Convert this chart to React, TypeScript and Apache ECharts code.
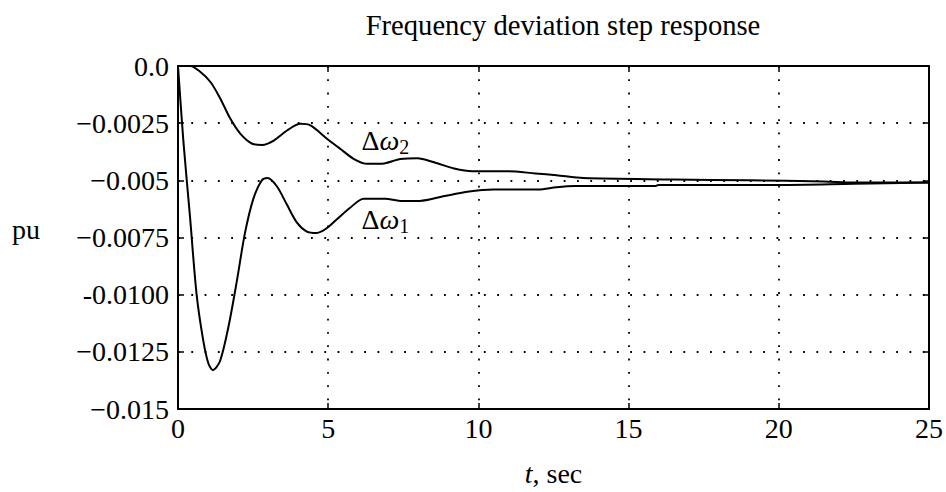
import { useEffect, useRef } from "react";
import * as echarts from "echarts";

const chartTitle = "Frequency deviation step response";
const yTickLabels = ["0.0", "−0.0025", "−0.005", "−0.0075", "-0.0100", "−0.0125", "−0.015"];
const xTickLabels = ["0", "5", "10", "15", "20", "25"];

// Δω1 (lower curve)
const t1 = [0, 0.18, 0.4, 0.62, 0.84, 1.01, 1.16, 1.4, 1.68, 1.96, 2.23, 2.51, 2.79, 2.98, 3.29, 3.62, 3.96, 4.29, 4.62, 4.9, 5.29, 5.73, 6.18, 6.9, 7.4, 8.05, 8.83, 9.63, 10.5, 12.0, 12.6, 13.2, 15.9, 16.0, 18, 20, 22.5, 25];
const w1 = [0, -0.0033, -0.0066, -0.01, -0.012, -0.013, -0.0133, -0.0129, -0.0114, -0.0094, -0.0073, -0.0058, -0.005, -0.0049, -0.00526, -0.00605, -0.00685, -0.00724, -0.0073, -0.00714, -0.0067, -0.0062, -0.0058, -0.0058, -0.0059, -0.0059, -0.0057, -0.0055, -0.0054, -0.0054, -0.0053, -0.00525, -0.00525, -0.0052, -0.0052, -0.0052, -0.00515, -0.0051];

// Δω2 (upper curve)
const t2 = [0, 0.41, 0.69, 1.08, 1.41, 1.74, 2.08, 2.47, 2.8, 3.19, 3.63, 4.08, 4.41, 4.97, 5.41, 5.86, 6.3, 6.74, 7.41, 7.97, 8.52, 9.19, 9.8, 10.5, 11.0, 11.9, 12.6, 13.5, 16.5, 19, 21.5, 22.5, 25];
const w2 = [0, 0, -0.0002, -0.0007, -0.00143, -0.0023, -0.00297, -0.0034, -0.00345, -0.00326, -0.00282, -0.00253, -0.0026, -0.00319, -0.00363, -0.00407, -0.00428, -0.00428, -0.00407, -0.00403, -0.00421, -0.00448, -0.0046, -0.0046, -0.0046, -0.0047, -0.00478, -0.0049, -0.00496, -0.005, -0.00505, -0.0051, -0.0051];

// label anchor positions (data coords)
const label1 = [6.9, -0.0067];
const label2 = [6.9, -0.00325];

const FONT = "'Liberation Serif', 'Times New Roman', serif";

export default function App() {
  const ref = useRef<HTMLDivElement>(null);
  useEffect(() => {
    if (!ref.current) return;
    const chart = echarts.init(ref.current, null, { renderer: "svg" });
    const axisLine = { show: true, onZero: false, lineStyle: { color: "#000", width: 2 } };
    const tick = { show: true, inside: true, length: 6, lineStyle: { color: "#000", width: 1.5 } };
    const grid = { show: true, lineStyle: { color: "#000", width: 1.8, type: [1.8, 11.5] as any } };
    const richLabel = (sub: string) => ({
      show: true,
      position: "inside",
      formatter: "{d|Δ}{w|ω}{s|" + sub + "}",
      rich: {
        d: { fontFamily: FONT, fontSize: 28, color: "#000", lineHeight: 34 },
        w: { fontFamily: FONT, fontSize: 28, fontStyle: "italic", color: "#000", lineHeight: 34 },
        s: { fontFamily: FONT, fontSize: 20, color: "#000", lineHeight: 19, verticalAlign: "bottom" },
      },
    });
    const mp = (pos: number[], sub: string) => ({
      symbol: "circle",
      symbolSize: 1,
      itemStyle: { color: "rgba(0,0,0,0)" },
      label: richLabel(sub),
      data: [{ coord: pos }],
    });
    chart.setOption({
      animation: false,
      backgroundColor: "#fff",
      title: {
        text: chartTitle,
        left: 558,
        top: 6,
        textAlign: "center",
        textStyle: { fontFamily: FONT, fontSize: 28.6, fontWeight: "normal", color: "#000" },
      },
      grid: { left: 178, right: 15, top: 66, height: 345, containLabel: false },
      xAxis: [
        {
          type: "value",
          min: 0,
          max: 25,
          interval: 5,
          position: "bottom",
          axisLine,
          axisTick: tick,
          splitLine: grid,
          axisLabel: {
            color: "#000",
            fontFamily: FONT,
            fontSize: 28,
            margin: 5,
            formatter: (v: number) => xTickLabels[Math.round(v / 5)] ?? "",
          },
          name: "{i|t}{n|, sec}",
          nameLocation: "middle",
          nameGap: 50,
          nameTextStyle: {
            rich: {
              i: { fontFamily: FONT, fontSize: 28, fontStyle: "italic", color: "#000" },
              n: { fontFamily: FONT, fontSize: 28, color: "#000" },
            },
          },
        },
        {
          type: "value",
          min: 0,
          max: 25,
          interval: 5,
          position: "top",
          axisLine,
          axisTick: tick,
          splitLine: { show: false },
          axisLabel: { show: false },
        },
      ],
      yAxis: [
        {
          type: "value",
          min: -0.015,
          max: 0,
          interval: 0.0025,
          position: "left",
          axisLine,
          axisTick: tick,
          splitLine: grid,
          axisLabel: {
            color: "#000",
            fontFamily: FONT,
            fontSize: 28,
            margin: 9,
            formatter: (v: number) => yTickLabels[Math.round(-v / 0.0025)] ?? "",
          },
        },
        {
          type: "value",
          min: -0.015,
          max: 0,
          interval: 0.0025,
          position: "right",
          axisLine,
          axisTick: tick,
          splitLine: { show: false },
          axisLabel: { show: false },
        },
      ],
      graphic: [
        {
          type: "text",
          left: 12,
          top: 215,
          style: { text: "pu", fontFamily: FONT, fontSize: 28, fill: "#000" },
        },
      ],
      series: [
        {
          type: "line",
          name: "Δω1",
          data: t1.map((t, i) => [t, w1[i]]),
          showSymbol: false,
          smooth: 0.3,
          lineStyle: { color: "#000", width: 2 },
          markPoint: mp(label1, "1"),
        },
        {
          type: "line",
          name: "Δω2",
          data: t2.map((t, i) => [t, w2[i]]),
          showSymbol: false,
          smooth: 0.3,
          lineStyle: { color: "#000", width: 2 },
          markPoint: mp(label2, "2"),
        },
      ],
    });
    return () => chart.dispose();
  }, []);
  return (
    <div
      ref={ref}
      style={{ position: "fixed", left: 0, top: 0, width: 946, height: 492, background: "#fff" }}
    />
  );
}
